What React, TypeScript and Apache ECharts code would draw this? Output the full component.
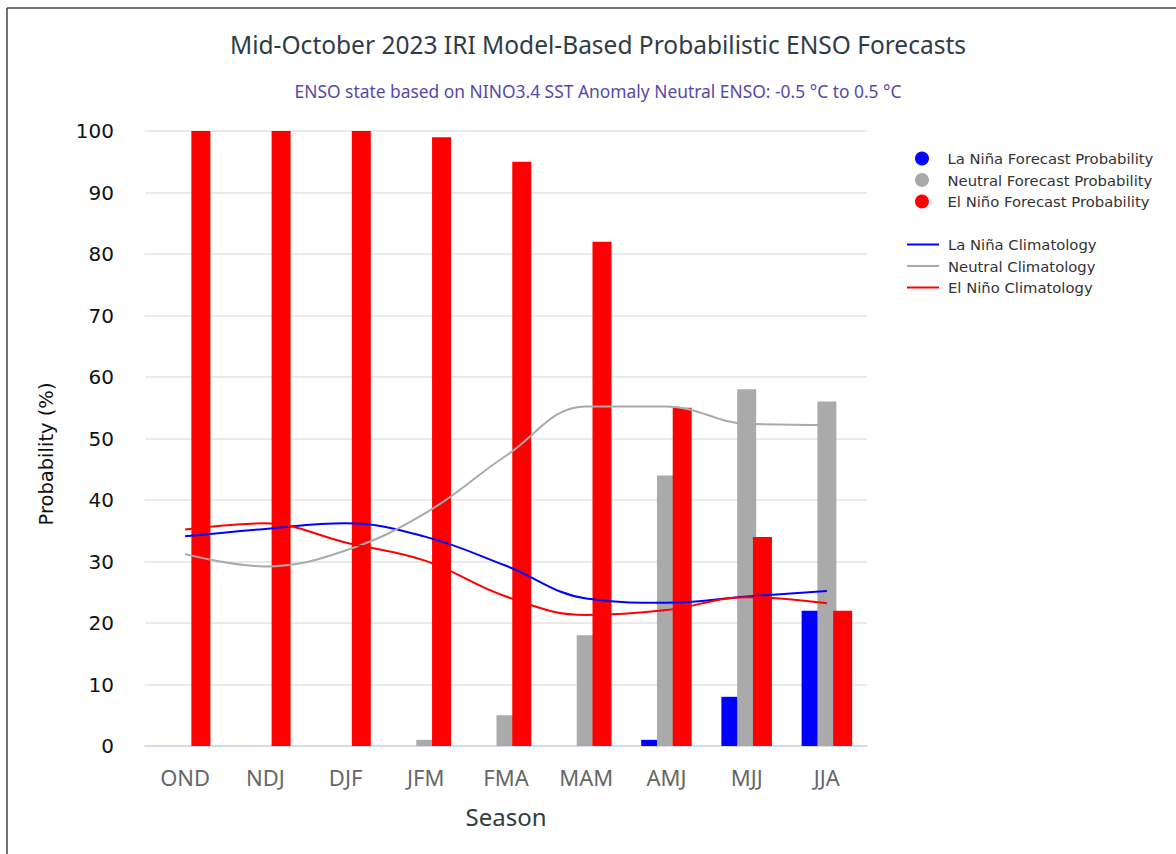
import React, { useEffect, useRef } from "react";
import * as echarts from "echarts";

const seasons = ["OND", "NDJ", "DJF", "JFM", "FMA", "MAM", "AMJ", "MJJ", "JJA"];
const laNinaProb = [0, 0, 0, 0, 0, 0, 1, 8, 22];
const neutralProb = [0, 0, 0, 1, 5, 18, 44, 58, 56];
const elNinoProb = [100, 100, 100, 99, 95, 82, 55, 34, 22];
const laNinaClim = [34.1, 35.3, 36.2, 34.0, 29.3, 24.0, 23.3, 24.3, 25.2];
const neutralClim = [31.2, 29.2, 31.8, 37.9, 47.2, 55.2, 55.2, 52.4, 52.2];
const elNinoClim = [35.2, 36.2, 33.1, 30.1, 24.3, 21.3, 22.1, 24.2, 23.2];
const yTicks = [0, 100, 10];

const SANS = "'Noto Sans', sans-serif";
const WIDE = "'DejaVu Sans', Verdana, sans-serif";
const LINE_ICON = "path://M0,0 L32,0 L32,2 L0,2 Z";

export default function App() {
  const ref = useRef<HTMLDivElement>(null);
  useEffect(() => {
    if (!ref.current) return;
    const chart = echarts.init(ref.current, undefined, { renderer: "svg" });
    const barCommon = { type: "bar", barWidth: 19, barGap: "-17%" };
    const lineCommon = {
      type: "line",
      smooth: 0.4,
      symbol: "none",
      showSymbol: false,
      z: 5,
    };
    chart.setOption({
      animation: false,
      backgroundColor: "#ffffff",
      title: {
        text: "Mid-October 2023 IRI Model-Based Probabilistic ENSO Forecasts",
        left: 598,
        top: 32,
        padding: 0,
        textAlign: "center",
        textStyle: { fontSize: 24.5, fontWeight: "normal", fontFamily: SANS, color: "#2e3d45" },
      },
      graphic: [
        {
          type: "line",
          shape: { x1: 7, y1: 8, x2: 1176, y2: 8 },
          style: { stroke: "#444444", lineWidth: 1.5 },
        },
        {
          type: "line",
          shape: { x1: 7, y1: 8, x2: 7, y2: 854 },
          style: { stroke: "#444444", lineWidth: 1.5 },
        },
        {
          type: "text",
          x: 598,
          y: 91,
          style: {
            text: "ENSO state based on NINO3.4 SST Anomaly Neutral ENSO: -0.5 °C to 0.5 °C",
            fontSize: 17.4,
            fontFamily: SANS,
            fill: "#5549aa",
            align: "center",
            verticalAlign: "middle",
            textAlign: "center",
            textVerticalAlign: "middle",
          },
        },
        {
          type: "text",
          x: 46,
          y: 454,
          rotation: Math.PI / 2,
          style: {
            text: "Probability (%)",
            fontSize: 19.5,
            fontFamily: WIDE,
            fill: "#111111",
            align: "center",
            verticalAlign: "middle",
            textAlign: "center",
            textVerticalAlign: "middle",
          },
        },
      ],
      legend: [
        {
          orient: "vertical",
          left: 915,
          top: 151,
          padding: 0,
          itemWidth: 25,
          itemHeight: 14,
          itemGap: 6.5,
          icon: "circle",
          data: [
            "La Niña Forecast Probability",
            "Neutral Forecast Probability",
            "El Niño Forecast Probability",
          ],
          textStyle: { fontSize: 14.8, fontFamily: WIDE, color: "#333333", padding: [0, 0, 0, 8] },
        },
        {
          orient: "vertical",
          left: 907,
          top: 237,
          padding: 0,
          itemWidth: 32,
          itemHeight: 14,
          itemGap: 6.5,
          icon: LINE_ICON,
          data: ["La Niña Climatology", "Neutral Climatology", "El Niño Climatology"],
          textStyle: { fontSize: 14.8, fontFamily: WIDE, color: "#333333", padding: [0, 0, 0, 4] },
        },
      ],
      grid: { left: 145, right: 309, top: 131, bottom: 108 },
      xAxis: {
        type: "category",
        data: seasons,
        axisLine: { lineStyle: { color: "#ccd6eb", width: 1.5 } },
        axisTick: { show: false },
        axisLabel: { fontSize: 22, fontFamily: SANS, color: "#666666", margin: 20 },
        name: "Season",
        nameLocation: "middle",
        nameGap: 58,
        nameTextStyle: { fontSize: 24, fontFamily: SANS, color: "#2e3d45" },
      },
      yAxis: {
        type: "value",
        min: yTicks[0],
        max: yTicks[1],
        interval: yTicks[2],
        axisLine: { show: false },
        axisTick: { show: false },
        axisLabel: { fontSize: 20, fontFamily: WIDE, color: "#111111", margin: 31 },
        splitLine: { lineStyle: { color: "#e3e3e3", width: 1.5 } },
      },
      series: [
        { ...barCommon, name: "La Niña Forecast Probability", data: laNinaProb, itemStyle: { color: "#0000ff" } },
        { ...barCommon, name: "Neutral Forecast Probability", data: neutralProb, itemStyle: { color: "#aaaaaa" } },
        { ...barCommon, name: "El Niño Forecast Probability", data: elNinoProb, itemStyle: { color: "#ff0000" } },
        { ...lineCommon, name: "La Niña Climatology", data: laNinaClim, itemStyle: { color: "#0000ff" }, lineStyle: { color: "#0000ff", width: 2 } },
        { ...lineCommon, name: "Neutral Climatology", data: neutralClim, itemStyle: { color: "#aaaaaa" }, lineStyle: { color: "#aaaaaa", width: 2 } },
        { ...lineCommon, name: "El Niño Climatology", data: elNinoClim, itemStyle: { color: "#ff0000" }, lineStyle: { color: "#ff0000", width: 2 } },
      ],
    });
    return () => chart.dispose();
  }, []);
  return (
    <div
      ref={ref}
      style={{ position: "fixed", left: 0, top: 0, width: 1176, height: 854 }}
    />
  );
}
